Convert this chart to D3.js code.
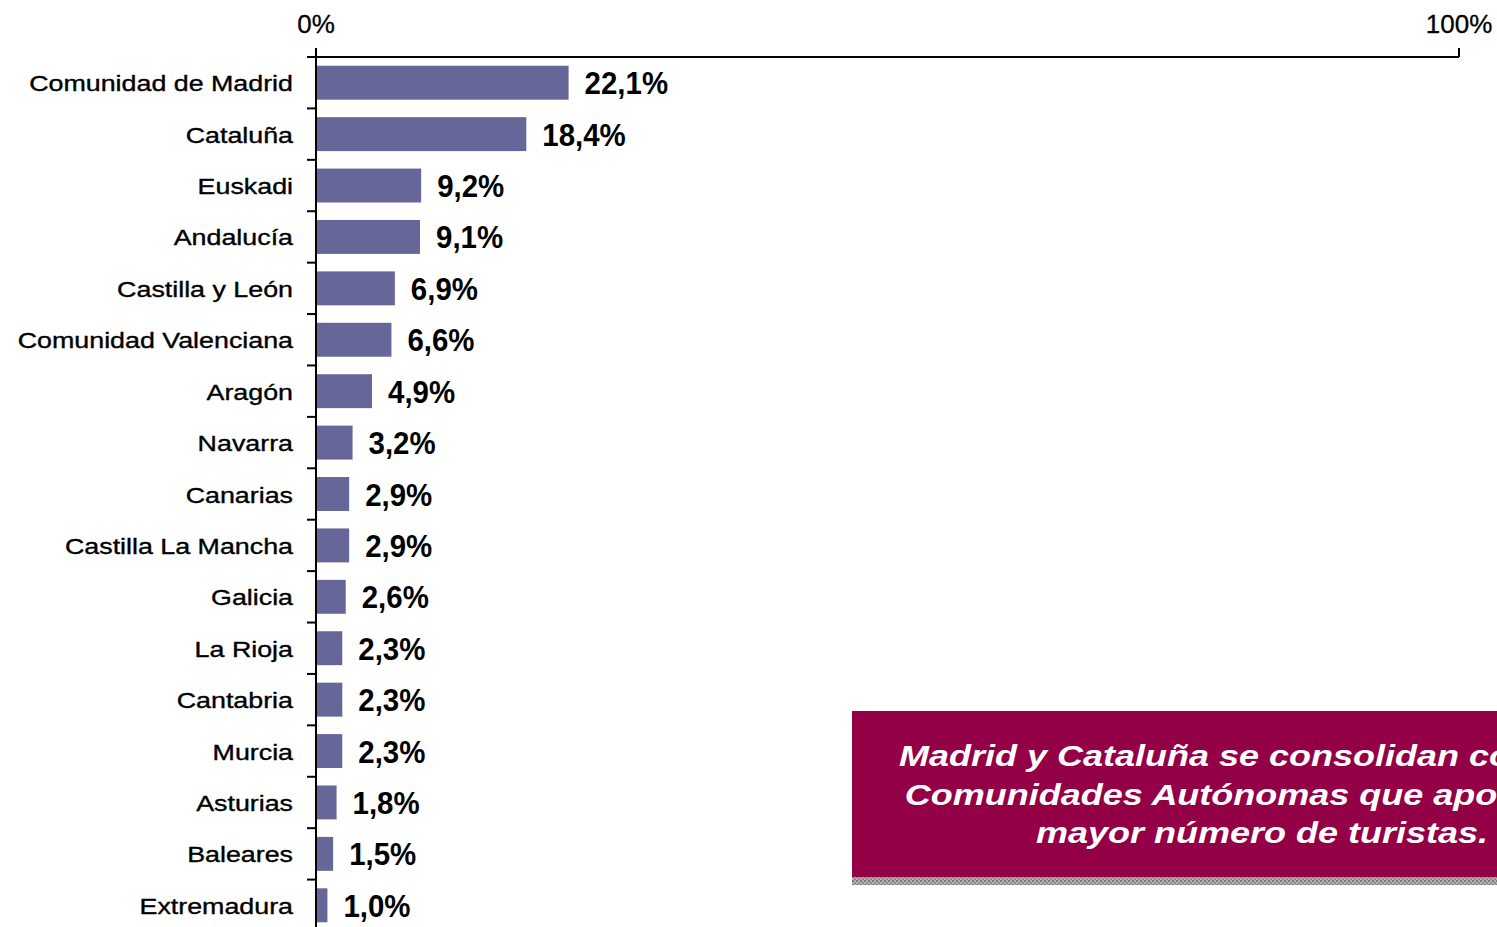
<!DOCTYPE html>
<html lang="es">
<head>
<meta charset="utf-8">
<title>Turistas por Comunidad Autónoma</title>
<script src="https://cdn.jsdelivr.net/npm/d3@7/dist/d3.min.js"></script>
<style>
  html, body { margin: 0; padding: 0; background: #fff; }
  svg { display: block; font-family: "Liberation Sans", Arial, sans-serif; }
</style>
</head>
<body>
<svg id="chart" width="1497" height="927"></svg>
<script>
// Share of tourists by autonomous community (%)
const regions = [
  "Comunidad de Madrid", "Cataluña", "Euskadi", "Andalucía", "Castilla y León",
  "Comunidad Valenciana", "Aragón", "Navarra", "Canarias", "Castilla La Mancha",
  "Galicia", "La Rioja", "Cantabria", "Murcia", "Asturias", "Baleares", "Extremadura"
];
const shares = [22.1, 18.4, 9.2, 9.1, 6.9, 6.6, 4.9, 3.2, 2.9, 2.9, 2.6, 2.3, 2.3, 2.3, 1.8, 1.5, 1.0];
const axisTicks = [0, 100];
const tickLabels = ["0%", "100%"];
const noteLines = [
  "Madrid y Cataluña se consolidan como las",
  "Comunidades Autónomas que aportan un",
  "mayor número de turistas."
];

const svg = d3.select("#chart");
const fmt = v => v.toFixed(1).replace(".", ",") + "%";

const x = d3.scaleLinear().domain([0, 100]).range([316, 1459]);
const y = d3.scaleBand().domain(regions).range([57, 931]).paddingInner(0.34).paddingOuter(0.17);
const step = y.step();
const plotTop = y.range()[0];

// Bars
svg.append("g").selectAll("rect")
  .data(regions)
  .join("rect")
  .attr("x", x(0))
  .attr("y", d => y(d))
  .attr("width", (d, i) => x(shares[i]) - x(0))
  .attr("height", y.bandwidth())
  .attr("fill", "#666699");

// Axis lines and ticks
const axis = svg.append("g").attr("stroke", "#000").attr("stroke-width", 2);
axis.append("line").attr("x1", x(0)).attr("x2", x(100)).attr("y1", plotTop).attr("y2", plotTop);
axis.append("line").attr("x1", x(0)).attr("x2", x(0)).attr("y1", 48).attr("y2", 927);
axis.selectAll(".xt").data(axisTicks).join("line")
  .attr("x1", d => x(d)).attr("x2", d => x(d)).attr("y1", 48).attr("y2", plotTop);
axis.selectAll(".yt").data(d3.range(regions.length + 1)).join("line")
  .attr("x1", x(0) - 9).attr("x2", x(0))
  .attr("y1", i => plotTop + i * step).attr("y2", i => plotTop + i * step);

// Top tick labels
svg.append("g").selectAll("text")
  .data(axisTicks)
  .join("text")
  .attr("x", d => x(d))
  .attr("y", 33)
  .attr("text-anchor", "middle")
  .attr("font-size", 26)
  .attr("fill", "#000")
  .attr("stroke", "#000")
  .attr("stroke-width", 0.3)
  .text((d, i) => tickLabels[i]);

// Category labels
svg.append("g").selectAll("text")
  .data(regions)
  .join("text")
  .attr("transform", d => `translate(293,${y(d) + y.bandwidth() / 2 + 8.5}) scale(1.22,1)`)
  .attr("text-anchor", "end")
  .attr("font-size", 22)
  .attr("fill", "#000")
  .attr("stroke", "#000")
  .attr("stroke-width", 0.35)
  .text(d => d);

// Value labels
svg.append("g").selectAll("text")
  .data(regions)
  .join("text")
  .attr("transform", (d, i) => `translate(${x(shares[i]) + 16},${y(d) + y.bandwidth() / 2 + 11.5}) scale(0.95,1)`)
  .attr("font-size", 31)
  .attr("font-weight", "bold")
  .attr("fill", "#000")
  .text((d, i) => fmt(shares[i]));

// Highlight note box with textured shadow strip
const defs = svg.append("defs");
const pat = defs.append("pattern").attr("id", "strip").attr("width", 4).attr("height", 4)
  .attr("patternUnits", "userSpaceOnUse");
pat.append("rect").attr("width", 4).attr("height", 4).attr("fill", "#b4b4b4");
pat.append("rect").attr("width", 2).attr("height", 2).attr("fill", "#7a7a7a");
pat.append("rect").attr("x", 2).attr("y", 2).attr("width", 2).attr("height", 2).attr("fill", "#8c8c8c");

const note = svg.append("g");
note.append("rect").attr("x", 852).attr("y", 877).attr("width", 830).attr("height", 8).attr("fill", "url(#strip)");
note.append("rect").attr("x", 852).attr("y", 711).attr("width", 830).attr("height", 166).attr("fill", "#940046");
note.selectAll("text")
  .data(noteLines)
  .join("text")
  .attr("transform", (d, i) => `translate(1262,${766 + i * 38.5}) scale(1.2,1)`)
  .attr("text-anchor", "middle")
  .attr("font-size", 30)
  .attr("font-weight", "bold")
  .attr("font-style", "italic")
  .attr("fill", "#fff")
  .text(d => d);
</script>
</body>
</html>
